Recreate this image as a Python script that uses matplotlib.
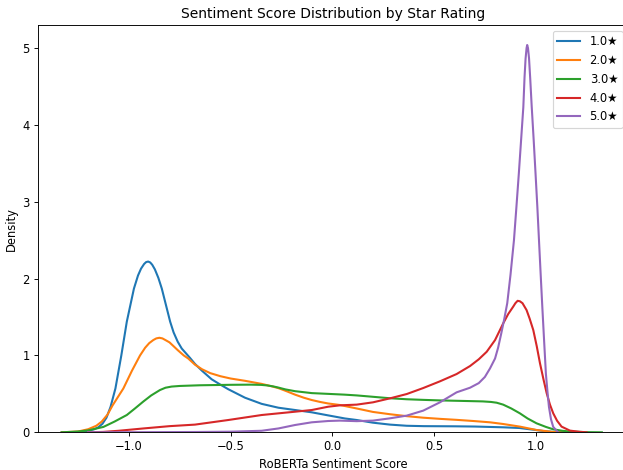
import matplotlib
matplotlib.use("Agg")
import matplotlib.pyplot as plt

# Star-rating categories
labels = ["1.0★", "2.0★", "3.0★", "4.0★", "5.0★"]
colors = ["#1f77b4", "#ff7f0e", "#2ca02c", "#d62728", "#9467bd"]

# Density curves (x = sentiment score, y = density)
x1 = [-1.33, -1.25, -1.2, -1.17, -1.15, -1.13, -1.11, -1.09, -1.066, -1.037, -1.01, -0.975,
      -0.955, -0.94, -0.925,
      -0.915, -0.905, -0.895, -0.885, -0.872, -0.855, -0.838, -0.817, -0.797, -0.78, -0.76,
      -0.74, -0.72, -0.7, -0.675, -0.64, -0.593, -0.55, -0.511, -0.429, -0.347,
      -0.265, -0.183, -0.101, -0.02, 0.062, 0.12, 0.2, 0.284, 0.366, 0.45, 0.6, 0.7, 0.84,
      0.92, 1.0, 1.05, 1.1, 1.15]
y1 = [0, 0.005, 0.02, 0.04, 0.065, 0.11, 0.19, 0.33, 0.57, 1.0, 1.44, 1.87,
      2.04, 2.13, 2.19,
      2.215, 2.222, 2.21, 2.18, 2.12, 2.01, 1.87, 1.65, 1.44, 1.3, 1.18,
      1.09, 1.03, 0.97, 0.89, 0.8, 0.69, 0.62, 0.56, 0.45, 0.37,
      0.32, 0.29, 0.26, 0.22, 0.18, 0.16, 0.125, 0.1, 0.085, 0.08, 0.078, 0.075, 0.065,
      0.056, 0.03, 0.012, 0.003, 0]

x2 = [-1.33, -1.25, -1.2, -1.16, -1.133, -1.105, -1.08, -1.027, -0.985, -0.945, -0.92, -0.9,
      -0.88, -0.865,
      -0.85, -0.835, -0.82, -0.8, -0.78, -0.76, -0.73, -0.708, -0.675, -0.64, -0.6, -0.55,
      -0.5, -0.429, -0.347, -0.3, -0.265, -0.225, -0.183, -0.14, -0.101, -0.06, -0.02,
      0.038, 0.12, 0.2, 0.284, 0.366, 0.447, 0.529, 0.611, 0.693, 0.775, 0.84, 0.922,
      1.004, 1.086, 1.15]
y2 = [0, 0.01, 0.04, 0.085, 0.14, 0.23, 0.35, 0.57, 0.8, 1.0, 1.1, 1.16,
      1.2, 1.222,
      1.23, 1.222, 1.2, 1.17, 1.12, 1.07, 1.0, 0.96, 0.88, 0.82, 0.77, 0.73,
      0.7, 0.67, 0.63, 0.6, 0.575, 0.535, 0.49, 0.45, 0.42, 0.395, 0.375,
      0.355, 0.31, 0.265, 0.235, 0.21, 0.19, 0.175, 0.162, 0.147, 0.13, 0.108, 0.074,
      0.03, 0.004, 0]

x3 = [-1.33, -1.25, -1.2, -1.125, -1.07, -1.01, -0.97, -0.929, -0.89, -0.847, -0.82, -0.79,
      -0.75, -0.65, -0.5, -0.4, -0.35, -0.32, -0.29, -0.265, -0.23, -0.183, -0.101, -0.02,
      0.06, 0.12, 0.2, 0.284, 0.366, 0.447, 0.529, 0.611, 0.693, 0.74, 0.78, 0.808, 0.84,
      0.88, 0.922, 0.96, 1.004, 1.05, 1.086, 1.13, 1.168, 1.25, 1.325]
y3 = [0, 0.01, 0.025, 0.07, 0.14, 0.225, 0.31, 0.4, 0.48, 0.55, 0.58, 0.595,
      0.603, 0.612, 0.618, 0.62, 0.617, 0.61, 0.597, 0.582, 0.558, 0.535, 0.51, 0.5,
      0.49, 0.48, 0.462, 0.443, 0.43, 0.422, 0.415, 0.41, 0.405, 0.402, 0.395, 0.385, 0.36,
      0.31, 0.247, 0.18, 0.117, 0.07, 0.039, 0.02, 0.01, 0.002, 0]

x4 = [-1.2, -1.127, -1.05, -0.929, -0.8, -0.675, -0.511, -0.347, -0.183, -0.101, -0.02, 0.038,
      0.12, 0.2, 0.284, 0.366, 0.447, 0.529, 0.611, 0.677, 0.72, 0.759, 0.8, 0.84, 0.865,
      0.889, 0.9, 0.911, 0.922, 0.935, 0.955, 0.97, 0.988, 1.005, 1.021, 1.038, 1.054, 1.07,
      1.086, 1.105, 1.127, 1.168, 1.217, 1.25]
y4 = [0, 0.005, 0.02, 0.05, 0.08, 0.1, 0.16, 0.225, 0.268, 0.29, 0.333, 0.351,
      0.36, 0.39, 0.442, 0.498, 0.576, 0.663, 0.758, 0.862, 0.95, 1.048, 1.2, 1.417, 1.54,
      1.634, 1.68, 1.711, 1.705, 1.68, 1.59, 1.48, 1.33, 1.12, 0.897, 0.69, 0.507, 0.36,
      0.247, 0.15, 0.074, 0.022, 0.006, 0]

x5 = [-1.2, -0.9, -0.675, -0.5, -0.347, -0.265, -0.183, -0.101, -0.02, 0.038, 0.12, 0.2,
      0.284, 0.366, 0.447, 0.529, 0.611, 0.677, 0.72, 0.75, 0.775, 0.8, 0.815, 0.83, 0.845,
      0.86, 0.876, 0.893, 0.905, 0.917, 0.928, 0.939, 0.945, 0.95, 0.955, 0.958, 0.962,
      0.967, 0.973, 0.98, 0.99, 0.999, 1.008, 1.016, 1.024, 1.032, 1.041, 1.05, 1.058,
      1.065, 1.075, 1.086, 1.11]
y5 = [0, 0.002, 0.004, 0.008, 0.02, 0.05, 0.095, 0.13, 0.147, 0.152, 0.145, 0.152,
      0.182, 0.217, 0.282, 0.39, 0.52, 0.58, 0.64, 0.72, 0.83, 0.96, 1.1, 1.28, 1.47,
      1.68, 2.05, 2.5, 2.93, 3.37, 3.8, 4.23, 4.62, 4.86, 5.0, 5.04, 5.0,
      4.87, 4.6, 4.25, 3.8, 3.37, 2.93, 2.5, 2.07, 1.65, 1.2, 0.76, 0.52,
      0.33, 0.17, 0.07, 0]

xs = [x1, x2, x3, x4, x5]
ys = [y1, y2, y3, y4, y5]

DPI = 83
fig = plt.figure(figsize=(623 / DPI, 470 / DPI), dpi=DPI)
ax = fig.add_axes([37.7 / 623, (470 - 432.3) / 470, (628.5 - 37.7) / 623, (432.3 - 25) / 470])

for x, y, lab, c in zip(xs, ys, labels, colors):
    ax.plot(x, y, color=c, lw=1.8, label=lab)

ax.set_xlim(-1.448, 1.456)
ax.set_ylim(0, 5.3)
ax.set_xticks([-1.0, -0.5, 0.0, 0.5, 1.0])
ax.set_yticks([0, 1, 2, 3, 4, 5])
ax.spines["right"].set_visible(False)
ax.set_title("Sentiment Score Distribution by Star Rating")
ax.set_xlabel("RoBERTa Sentiment Score")
ax.set_ylabel("Density")
ax.legend(loc="upper right")

fig.savefig("out.png", dpi=DPI)
